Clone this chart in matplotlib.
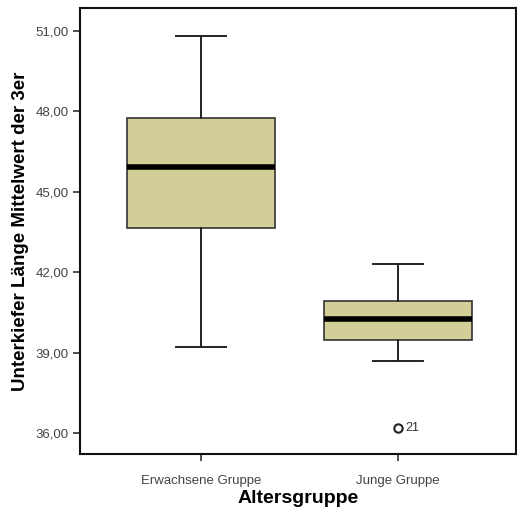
import matplotlib
matplotlib.use("Agg")
import matplotlib.pyplot as plt
from matplotlib.ticker import FuncFormatter

plt.rcParams['font.family'] = ['Liberation Sans', 'DejaVu Sans']

# Werte
gruppen = ["Erwachsene Gruppe", "Junge Gruppe"]
whisker_lo = [39.21, 38.69]
q1 = [43.65, 39.47]
median = [45.93, 40.25]
q3 = [47.75, 40.93]
whisker_hi = [50.81, 42.31]
ausreisser = [[], [36.19]]
ausreisser_fall = [[], ["21"]]

stats = []
for i, g in enumerate(gruppen):
    stats.append({
        "label": g,
        "whislo": whisker_lo[i],
        "q1": q1[i],
        "med": median[i],
        "q3": q3[i],
        "whishi": whisker_hi[i],
        "fliers": ausreisser[i],
    })

fig = plt.figure(figsize=(5.17, 5.16), dpi=100)
ax = fig.add_axes([80 / 517, 62 / 516, 436 / 517, 446 / 516])

ax.bxp(stats, positions=[1, 2], widths=0.75, patch_artist=True,
       boxprops=dict(facecolor="#d3ce98", edgecolor="#333333", linewidth=1.2),
       medianprops=dict(color="black", linewidth=4),
       whiskerprops=dict(color="#222222", linewidth=1.4),
       capprops=dict(color="#222222", linewidth=1.4),
       capwidths=0.25,
       flierprops=dict(marker="o", markersize=6, markerfacecolor="white",
                       markeredgecolor="#222222", markeredgewidth=1.5))

# Fallnummer neben dem Ausreisser
for i in range(len(gruppen)):
    for v, lab in zip(ausreisser[i], ausreisser_fall[i]):
        ax.text(i + 1 + 0.035, v, lab, fontsize=9, color="#333333", va="center", ha="left")

ax.set_xlim(0.386, 2.599)
ax.set_ylim(35.22, 51.86)
ax.set_yticks([36, 39, 42, 45, 48, 51])
ax.yaxis.set_major_formatter(FuncFormatter(lambda v, p: f"{v:.2f}".replace(".", ",")))
ax.set_xticks([1, 2])
ax.set_xticklabels(gruppen)

for s in ax.spines.values():
    s.set_linewidth(1.5)
    s.set_color("#111111")
ax.tick_params(axis="both", labelsize=9.5, labelcolor="#444444", length=5, width=1.2,
               color="#333333", pad=3)
ax.tick_params(axis="x", pad=10)

ax.set_ylabel("Unterkiefer Länge Mittelwert der 3er", fontsize=13.5, fontweight="bold", labelpad=5)
ax.set_xlabel("Altersgruppe", fontsize=14, fontweight="bold", labelpad=2)

fig.savefig("out.png", dpi=100)
